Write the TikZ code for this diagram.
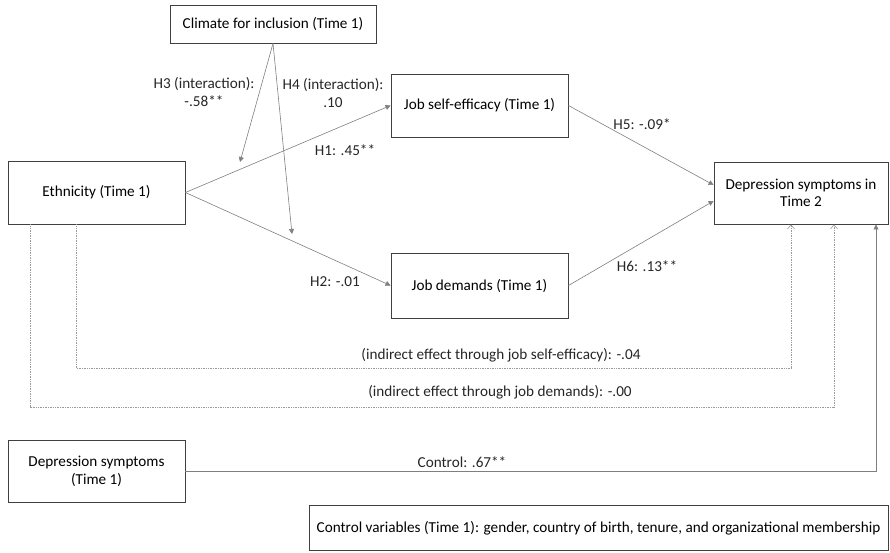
\documentclass[tikz,border=0pt]{standalone}
\usepackage{fontspec}
\setmainfont{Carlito}
\usetikzlibrary{arrows.meta,calc}
\definecolor{boxc}{HTML}{404040}
\definecolor{linec}{HTML}{7F7F7F}
\definecolor{dotc}{HTML}{9A9A9A}
\tikzset{
  box/.style={draw=boxc, line width=0.9pt, fill=white, align=center, inner sep=2pt},
  lbl/.style={align=center, inner sep=1pt, text=black!85},
  conn/.style={draw=linec, line width=0.6pt, -{Triangle[length=5pt,width=5pt]}},
  dotconn/.style={draw=dotc, line width=0.7pt, densely dotted, -{Straight Barb[length=4pt,width=7pt,line width=0.6pt]}},
}
\begin{document}
\begin{tikzpicture}[x=1pt,y=-1pt,font=\fontsize{15.2}{17.5}\selectfont]
\useasboundingbox (0,0) rectangle (890,552);
% boxes
\node[box, minimum width=206pt, minimum height=38pt] (clim) at (273,24) {Climate for inclusion (Time 1)};
\node[box, minimum width=177pt, minimum height=63pt] (eth) at (96.5,192.5) {Ethnicity (Time 1)};
\node[box, minimum width=177pt, minimum height=63pt] (jse) at (479.5,105.5) {Job self-efficacy (Time 1)};
\node[box, minimum width=177pt, minimum height=65pt] (jd) at (479.5,285.5) {Job demands (Time 1)};
\node[box, minimum width=174pt, minimum height=62pt] (dep2) at (801,193) {Depression symptoms in\\Time 2};
\node[box, minimum width=177pt, minimum height=62pt] (dep1) at (96.5,471.5) {Depression symptoms\\(Time 1)};
\node[box, minimum width=579pt, minimum height=45pt] (ctrl) at (598.5,528) {Control variables (Time 1): gender, country of birth, tenure, and organizational membership};
% free ends of moderation arrows
\coordinate (h3end) at (240,162);
\coordinate (h4end) at (292,234);
\coordinate (c1) at (791,368);
\coordinate (c2) at (834,407);
% connectors
\draw[conn] (clim.south) -- (h3end);
\draw[conn] (clim.south) -- (h4end);
\draw[conn] (eth.east) -- (jse.west);
\draw[conn] (eth.east) -- (jd.west);
\draw[conn] (jse.east) -- ([yshift=8pt]dep2.west);
\draw[conn] (jd.east) -- ([yshift=-8pt]dep2.west);
\draw[dotconn] ([xshift=-20.5pt]eth.south) |- (c1) -- (c1 |- dep2.south);
\draw[dotconn] ([xshift=-66.5pt]eth.south) |- (c2) -- (c2 |- dep2.south);
\draw[conn] (dep1.east) -| ([xshift=75pt]dep2.south);
% labels
\node[lbl] (lh3) at (204,92) {H3 (interaction):\\-.58**};
\node[lbl] (lh4) at (333,93) {H4 (interaction):\\.10};
\node[lbl] (lh1) at (345,150) {H1: .45**};
\node[lbl] (lh2) at (335,282) {H2: -.01};
\node[lbl] (lh5) at (642,124) {H5: -.09*};
\node[lbl] (lh6) at (647,266) {H6: .13**};
\node[lbl] (li1) at (501,355) {(indirect effect through job self-efficacy): -.04};
\node[lbl] (li2) at (500,392) {(indirect effect through job demands): -.00};
\node[lbl] (lc) at (462,462) {Control: .67**};
\end{tikzpicture}
\end{document}
